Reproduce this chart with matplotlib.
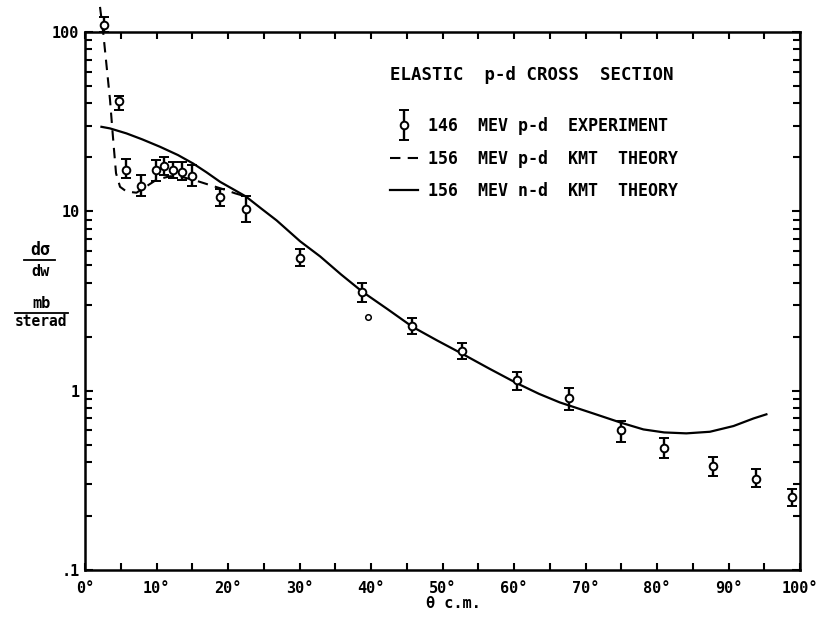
import matplotlib
matplotlib.use("Agg")
import matplotlib.pyplot as plt
from matplotlib.ticker import FixedLocator, LogLocator, NullFormatter, FixedFormatter
from matplotlib.lines import Line2D
from matplotlib.legend_handler import HandlerErrorbar
import numpy as np

plt.rcParams['font.family'] = ['DejaVu Sans Mono', 'DejaVu Sans']
plt.rcParams['font.weight'] = 'bold'

# ---- data ----
exp_theta = [2.6, 4.7, 5.8, 7.8, 9.9, 11.1, 12.3, 13.6, 14.9, 18.9, 22.5, 30.1,
             38.8, 45.8, 52.7, 60.4, 67.7, 75.0, 81.0, 87.8, 93.8, 98.9]
exp_val = [109, 41, 17.0, 13.8, 17.0, 17.9, 17.0, 16.6, 15.8, 12.0, 10.3, 5.5,
           3.56, 2.30, 1.67, 1.15, 0.91, 0.60, 0.48, 0.38, 0.32, 0.255]
exp_top = [122, 44, 19.5, 15.9, 19.3, 20.2, 18.9, 18.9, 18.1, 13.4, 12.1, 6.16,
           4.0, 2.53, 1.85, 1.27, 1.04, 0.68, 0.542, 0.425, 0.364, 0.284]
exp_bottom = [100, 36.7, 15.3, 12.1, 14.8, 15.9, 15.3, 14.9, 13.8, 10.7, 8.75, 4.98,
              3.13, 2.07, 1.50, 1.007, 0.78, 0.515, 0.423, 0.334, 0.291, 0.227]

extra_theta = [39.6]
extra_val = [2.58]

nd_theta = [2.3, 3.5, 5.8, 8.0, 10.5, 13.0, 15.1, 17.0, 18.9, 20.7, 22.5, 24.6, 26.8,
            30.1, 32.9, 35.8, 38.8, 42.3, 45.8, 49.2, 52.7, 56.5, 60.4, 63.5, 66.4,
            71.1, 75.0, 78.1, 81.0, 84.1, 87.4, 90.7, 93.5, 95.3]
nd_val = [29.6, 29.0, 27.2, 25.2, 22.9, 20.6, 18.5, 16.5, 14.6, 13.3, 12.1, 10.4, 8.9,
          6.8, 5.6, 4.45, 3.56, 2.85, 2.27, 1.91, 1.61, 1.33, 1.10, 0.96, 0.86,
          0.746, 0.662, 0.608, 0.585, 0.578, 0.590, 0.635, 0.70, 0.738]

pd_theta = [2.1, 2.56, 3.03, 3.5, 3.87, 4.06, 4.34, 4.9, 5.8, 7.2, 8.6, 10.0, 11.9,
            13.7, 15.6, 17.5, 19.3, 21.0, 22.5]
pd_val = [138, 98, 64, 41.8, 27.2, 22.0, 16.3, 13.7, 12.9, 12.7, 13.8, 15.0, 15.7,
          15.5, 14.8, 14.0, 13.3, 12.6, 12.1]

x_ticks = [0, 10, 20, 30, 40, 50, 60, 70, 80, 90, 100]
x_labels = ["0°", "10°", "20°", "30°", "40°", "50°", "60°", "70°", "80°", "90°", "100°"]
y_ticks = [0.1, 1, 10, 100]
y_labels = [".1", "1", "10", "100"]

title_text = "ELASTIC  p-d CROSS  SECTION"
legend_labels = ["146  MEV p-d  EXPERIMENT",
                 "156  MEV p-d  KMT  THEORY",
                 "156  MEV n-d  KMT  THEORY"]

# ---- figure ----
W, H = 830, 617
fig = plt.figure(figsize=(W / 100, H / 100), dpi=100)
ax = fig.add_axes([85 / W, 1 - 570 / H, 715 / W, 538 / H])
ax.set_yscale('log')
ax.set_xlim(0, 100)
ax.set_ylim(0.1, 100)

yerr = [np.array(exp_val) - np.array(exp_bottom), np.array(exp_top) - np.array(exp_val)]
eb = ax.errorbar(exp_theta, exp_val, yerr=yerr, fmt='o', color='black', ms=5.5,
                 mfc='white', mec='black', mew=1.4, elinewidth=1.7, capsize=3.5,
                 capthick=1.9, zorder=3)
for part in eb.lines:
    if part is None:
        continue
    items = part if isinstance(part, (tuple, list)) else [part]
    for a in items:
        a.set_clip_on(False)
ax.plot(extra_theta, extra_val, 'o', ms=4, mfc='white', mec='black', mew=1.1, zorder=3)
dash_line, = ax.plot(pd_theta, pd_val, color='black', lw=1.5, dashes=(5, 3.5),
                     zorder=2, clip_on=False)
solid_line, = ax.plot(nd_theta, nd_val, color='black', lw=1.6, zorder=2)

for s in ax.spines.values():
    s.set_linewidth(1.8)

ax.xaxis.set_major_locator(FixedLocator(x_ticks))
ax.xaxis.set_major_formatter(FixedFormatter(x_labels))
ax.xaxis.set_minor_locator(FixedLocator([5, 15, 25, 35, 45, 55, 65, 75, 85, 95]))
ax.yaxis.set_major_locator(FixedLocator(y_ticks))
ax.yaxis.set_major_formatter(FixedFormatter(y_labels))
ax.yaxis.set_minor_locator(LogLocator(base=10, subs=np.arange(2, 10)))
ax.yaxis.set_minor_formatter(NullFormatter())

ax.tick_params(axis='both', which='both', direction='in', top=True, right=True,
               width=1.5, labelsize=11)
ax.tick_params(axis='x', which='both', length=5, pad=8)
ax.tick_params(axis='y', which='major', length=6, pad=4)
ax.tick_params(axis='y', which='minor', length=5)

# title text
fig.text(390 / W, 1 - 75 / H, title_text, ha='left', va='center', fontsize=12.5)

# legend
handles = [eb, dash_line, solid_line]
leg = fig.legend(handles, legend_labels, loc='upper left',
                 bbox_to_anchor=(390 / W, 1 - 117 / H), frameon=False, fontsize=12,
                 handlelength=1.65, handletextpad=0.6, labelspacing=0.87,
                 borderpad=0, borderaxespad=0,
                 handler_map={type(eb): HandlerErrorbar(yerr_size=0.9)})

# y-axis label as two stacked fractions
fig.text(40 / W, 1 - 250 / H, "dσ", ha='center', va='center', fontsize=12)
fig.text(40 / W, 1 - 271 / H, "dw", ha='center', va='center', fontsize=11)
fig.add_artist(Line2D([24 / W, 55 / W], [1 - 260 / H, 1 - 260 / H], color='black', lw=1.3))
fig.text(41 / W, 1 - 304 / H, "mb", ha='center', va='center', fontsize=11)
fig.text(41 / W, 1 - 322 / H, "sterad", ha='center', va='center', fontsize=10.5)
fig.add_artist(Line2D([15 / W, 68 / W], [1 - 313 / H, 1 - 313 / H], color='black', lw=1.3))

# x-axis label
fig.text(453 / W, 1 - 603 / H, "θ c.m.", ha='center', va='center', fontsize=11)

fig.savefig("out.png", dpi=100)
